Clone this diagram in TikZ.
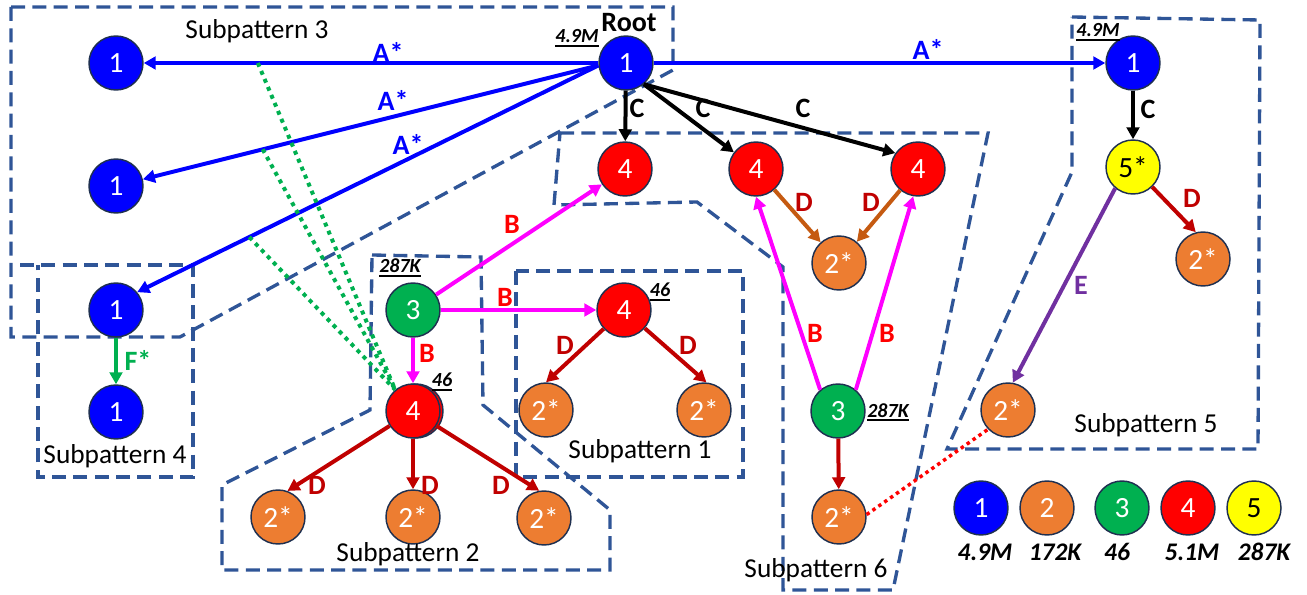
\documentclass[tikz,border=0pt]{standalone}
\usepackage{fontspec}
\setmainfont{Carlito}
\usetikzlibrary{arrows.meta}

\definecolor{cbluefill}{HTML}{0000FF}
\definecolor{corange}{HTML}{ED7D31}
\definecolor{cgreen}{HTML}{00B050}
\definecolor{cred}{HTML}{FF0000}
\definecolor{cyellow}{HTML}{FFFF00}
\definecolor{crim}{HTML}{1F3050}
\definecolor{czone}{HTML}{2F5597}
\definecolor{cdred}{HTML}{C00000}
\definecolor{crust}{HTML}{C55A11}
\definecolor{cmag}{HTML}{FF00FF}
\definecolor{cpurp}{HTML}{7030A0}

\newsavebox\cntbox
\newcommand\ulcount[1]{\sbox\cntbox{#1}\rlap{\rule[-3pt]{\wd\cntbox}{1.4pt}}\usebox\cntbox}

\tikzset{
  vtx/.style={circle, draw=crim, line width=1.1pt, minimum size=40.5pt, inner sep=0pt,
              font=\fontsize{22pt}{22pt}\selectfont, text=white},
  v1/.style={vtx, fill=cbluefill},
  v2/.style={vtx, fill=corange},
  v3/.style={vtx, fill=cgreen},
  v4/.style={vtx, fill=cred},
  v5/.style={vtx, fill=cyellow, text=black},
  link/.style={line width=3pt, -{Triangle[length=9pt,width=9.5pt]}},
  zone/.style={draw=czone, line width=2.5pt, dash pattern=on 10.5pt off 5.5pt},
  lbl/.style={font=\fontsize{21pt}{21pt}\selectfont\bfseries, inner sep=0pt},
  cnt/.style={font=\fontsize{15pt}{15pt}\selectfont\bfseries\itshape, anchor=base, inner sep=0pt},
  keytxt/.style={font=\fontsize{19pt}{19pt}\selectfont\bfseries\itshape, anchor=base, inner sep=0pt},
  subtxt/.style={font=\fontsize{20.5pt}{20.5pt}\selectfont, anchor=base, inner sep=0pt},
  gdots/.style={draw=cgreen, line width=3pt, dash pattern=on 3pt off 3.5pt},
  rdots/.style={draw=cred, line width=2.6pt, dash pattern=on 2.6pt off 2.8pt},
}

\begin{document}
\begin{tikzpicture}[x=0.75pt, y=-0.75pt]
\useasboundingbox (0,0) rectangle (1307,595);

% subpattern outlines
\draw[zone] (11,7) -- (673,7) -- (673,70) -- (180,337) -- (11,337) -- cycle;
\draw[zone] (20,265) -- (193,265) -- (193,477) -- (38,477) -- (38,265);
\draw[zone] (372,255) -- (481,257) -- (483,405) -- (610,510) -- (610,570) -- (222,570) -- (222,485) -- (370,410) -- cycle;
\draw[zone] (516,271) rectangle (743,477);
\draw[zone] (560,133) -- (988,133) -- (893,590) -- (783,590) -- (783,267) -- (697,202) -- (554,205) -- cycle;
\draw[zone] (1072,17) -- (1260,20) -- (1258,449) -- (947,449) -- (1072,172) -- cycle;

% vertices
\node[v1] (root) at (626,63) {1};
\node[v1] (l1) at (116,63) {1};
\node[v1] (l2) at (116,186) {1};
\node[v1] (l3) at (116,310) {1};
\node[v1] (l4) at (116,412) {1};
\node[v1] (r1) at (1133,63) {1};
\node[v5] (y5) at (1133,167) {5*};
\node[v2] (o5r) at (1203,259) {2*};
\node[v2] (o5) at (1008,410) {2*};
\node[v4] (r4a) at (625,169) {4};
\node[v4] (r4b) at (756,169) {4};
\node[v4] (r4c) at (918,169) {4};
\node[v2] (om) at (839,263) {2*};
\node[v3] (g3a) at (413,310) {3};
\node[v4] (r4s) at (624,310) {4};
\node[v2] (o1a) at (546,410) {2*};
\node[v2] (o1b) at (704,410) {2*};
\node[v4] (r4back) at (416,411) {};
\node[v4] (r4d) at (413,411) {4};
\node[v2] (o2a) at (278,517) {2*};
\node[v2] (o2b) at (413,517) {2*};
\node[v2] (o2c) at (544,518) {2*};
\node[v3] (g3b) at (838,411) {3};
\node[v2] (o6) at (839,517) {2*};

% legend
\node[v1] (k1) at (981,508) {1};
\node[v2] (k2) at (1047,508) {2};
\node[v3] (k3) at (1122,508) {3};
\node[v4] (k4) at (1188,508) {4};
\node[v5] (k5) at (1254,508) {5};
\node[keytxt] (k1t) at (985,560) {4.9M};
\node[keytxt] (k2t) at (1055,560) {172K};
\node[keytxt] (k3t) at (1117,560) {46};
\node[keytxt] (k4t) at (1192,560) {5.1M};
\node[keytxt] (k5t) at (1264,560) {287K};

% connectors
\draw[link, cbluefill] (root) -- (l1);
\draw[link, cbluefill] (root.185) -- (l2);
\draw[link, cbluefill] (root.185) -- (l3.40);
\draw[link, cbluefill] (root) -- (r1);
\draw[link] (root) -- (r4a);
\draw[link] (root.-50) -- (r4b);
\draw[link] (root.-50) -- (r4c.145);
\draw[link] (r1) -- (y5);
\draw[link, cdred] (y5) -- (o5r.105);
\draw[link, cpurp] (y5.-130) -- (o5.80);
\draw[link, crust] (r4b) -- (om);
\draw[link, crust] (r4c) -- (om);
\draw[link, cmag] (g3a) -- (r4a);
\draw[link, cmag] (g3a) -- (r4s);
\draw[link, cmag] (g3a) -- (r4d);
\draw[link, cmag] (g3b.130) -- (r4b.south);
\draw[link, cmag] (g3b.50) -- (r4c.-100);
\draw[link, cdred] (g3b) -- (o6);
\draw[link, cdred] (r4s) -- (o1a.90);
\draw[link, cdred] (r4s) -- (o1b.85);
\draw[link, cdred] (r4d) -- (o2a.70);
\draw[link, cdred] (r4d) -- (o2b);
\draw[link, cdred] (r4d) -- (o2c.100);
\draw[link, cgreen] (l3) -- (l4);

% dotted links
\path (root) -- (l1) coordinate[pos=0.749] (d1);
\path (root.185) -- (l2) coordinate[pos=0.737] (d2);
\path (root.185) -- (l3.40) coordinate[pos=0.757] (d3);
\draw[gdots] (d1) -- (r4d.130);
\draw[gdots] (d2) -- (r4d.130);
\draw[gdots] (d3) -- (r4d.130);
\draw[rdots] (o6.5) -- (o5.224);

% connector labels
\node[lbl, text=cbluefill] (ta1) at (388,52) {A*};
\node[lbl, text=cbluefill] (ta2) at (393,100) {A*};
\node[lbl, text=cbluefill] (ta3) at (408,144) {A*};
\node[lbl, text=cbluefill] (ta4) at (928,49) {A*};
\node[lbl] (tc1) at (637,108) {C};
\node[lbl] (tc2) at (703,108) {C};
\node[lbl] (tc3) at (803,108) {C};
\node[lbl] (tc4) at (1148,109) {C};
\node[lbl, text=cdred] (td1) at (804,202) {D};
\node[lbl, text=cdred] (td2) at (871,202) {D};
\node[lbl, text=cdred] (td3) at (1192,198) {D};
\node[lbl, text=cpurp] (te) at (1081,285) {E};
\node[lbl, text=cred] (tb1) at (512,224) {B};
\node[lbl, text=cred] (tb2) at (505,297) {B};
\node[lbl, text=cred] (tb3) at (427,353) {B};
\node[lbl, text=cred] (tb4) at (815,333) {B};
\node[lbl, text=cred] (tb5) at (887,333) {B};
\node[lbl, text=cdred] (td4) at (565,345) {D};
\node[lbl, text=cdred] (td5) at (688,345) {D};
\node[lbl, text=cdred] (td6) at (317,485) {D};
\node[lbl, text=cdred] (td7) at (430,485) {D};
\node[lbl, text=cdred] (td8) at (501,485) {D};
\node[lbl, text=cgreen] (tf) at (138,360) {F*};

% counts
\node[cnt] (n1) at (577,43) {\ulcount{4.9M}};
\node[cnt] (n2) at (1098,37) {\ulcount{4.9M}};
\node[cnt] (n3) at (400,273) {\ulcount{287K}};
\node[cnt] (n4) at (442,387) {\ulcount{46}};
\node[cnt] (n5) at (660,297) {\ulcount{46}};
\node[cnt] (n6) at (888,417) {\ulcount{287K}};

% titles
\node[subtxt, font=\fontsize{21pt}{21pt}\selectfont\bfseries] (troot) at (629,32) {Root};
\node[subtxt] (s3) at (257,39) {Subpattern 3};
\node[subtxt] (s4) at (115,463) {Subpattern 4};
\node[subtxt] (s2) at (408,561) {Subpattern 2};
\node[subtxt] (s1) at (640,458) {Subpattern 1};
\node[subtxt] (s6) at (816,577) {Subpattern 6};
\node[subtxt] (s5) at (1146,432) {Subpattern 5};
\end{tikzpicture}
\end{document}
